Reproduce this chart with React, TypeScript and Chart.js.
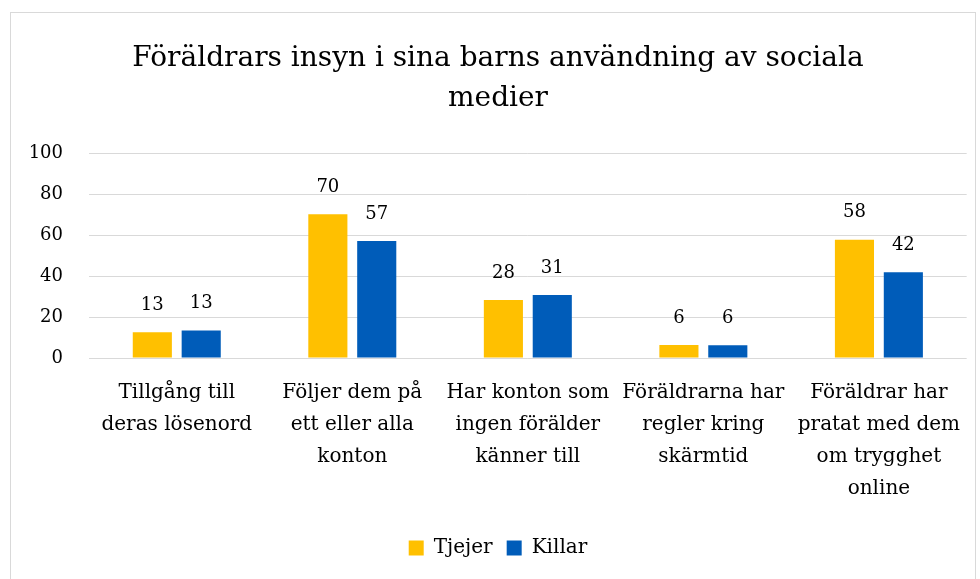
import React, { useEffect, useRef } from "react";
import { Chart, registerables } from "chart.js";

Chart.register(...registerables);

const titleLines = ["Föräldrars insyn i sina barns användning av sociala", "medier"];
const categories = [
  ["Tillgång till", "deras lösenord"],
  ["Följer dem på", "ett eller alla", "konton"],
  ["Har konton som", "ingen förälder", "känner till"],
  ["Föräldrarna har", "regler kring", "skärmtid"],
  ["Föräldrar har", "pratat med dem", "om trygghet", "online"],
];
const seriesNames = ["Tjejer", "Killar"];
const tjejer = [12.6, 70.3, 28.4, 6.3, 57.8];
const killar = [13.4, 57.2, 30.8, 6.2, 41.9];
const seriesColors = ["#FFC000", "#005CB9"];
const yTicks = [0, 20, 40, 60, 80, 100];

const FONT = "'DejaVu Serif', serif";

const dataLabels = {
  id: "dataLabels",
  afterDatasetsDraw(chart: any) {
    const ctx = chart.ctx;
    ctx.save();
    ctx.font = `18px ${FONT}`;
    ctx.fillStyle = "#000";
    ctx.textAlign = "center";
    ctx.textBaseline = "middle";
    chart.data.datasets.forEach((ds: any, i: number) => {
      const meta = chart.getDatasetMeta(i);
      meta.data.forEach((bar: any, j: number) => {
        ctx.fillText(String(Math.round(ds.data[j])), bar.x, bar.y - 27);
      });
    });
    ctx.restore();
  },
};

export default function App() {
  const ref = useRef<HTMLCanvasElement | null>(null);
  useEffect(() => {
    if (!ref.current) return;
    const chart = new Chart(ref.current, {
      type: "bar",
      data: {
        labels: categories as any,
        datasets: [
          { label: seriesNames[0], data: tjejer, backgroundColor: seriesColors[0] },
          { label: seriesNames[1], data: killar, backgroundColor: seriesColors[1] },
        ],
      },
      options: {
        animation: false,
        responsive: false,
        maintainAspectRatio: false,
        layout: { padding: { left: 26, right: 10, top: 12, bottom: 11 } },
        datasets: { bar: { categoryPercentage: 0.557, barPercentage: 0.8 } },
        plugins: {
          title: {
            display: true,
            text: titleLines,
            color: "#000",
            font: { family: FONT, size: 28, weight: "normal", lineHeight: 1.42 },
            padding: { top: 27, bottom: 35 },
          },
          legend: {
            position: "bottom",
            labels: {
              color: "#000",
              font: { family: FONT, size: 20 },
              boxWidth: 15,
              boxHeight: 15,
              padding: 14,
            },
          },
          tooltip: { enabled: false },
        },
        scales: {
          x: {
            grid: { display: false, drawTicks: false },
            border: { display: false },
            ticks: {
              color: "#000",
              font: { family: FONT, size: 20, lineHeight: 1.6 },
              padding: 19,
              maxRotation: 0,
              autoSkip: false,
            },
          },
          y: {
            min: 0,
            max: 100,
            afterFit(scale: any) {
              scale.width = 63;
            },
            afterBuildTicks(scale: any) {
              scale.ticks = yTicks.map((v) => ({ value: v }));
            },
            grid: { color: "#d9d9d9", lineWidth: 1, drawTicks: false },
            border: { display: false },
            ticks: {
              color: "#000",
              font: { family: FONT, size: 18 },
              padding: 26,
            },
          },
        },
      },
      plugins: [dataLabels],
    });
    return () => chart.destroy();
  }, []);
  return (
    <div>
      <div
        style={{
          position: "fixed",
          left: 10,
          top: 12,
          width: 966,
          height: 580,
          border: "1px solid #d9d9d9",
          boxSizing: "border-box",
        }}
      />
      <div style={{ position: "fixed", left: 0, top: 0, width: 980, height: 579 }}>
        <canvas ref={ref} width={980} height={579} style={{ width: 980, height: 579 }} />
      </div>
    </div>
  );
}
